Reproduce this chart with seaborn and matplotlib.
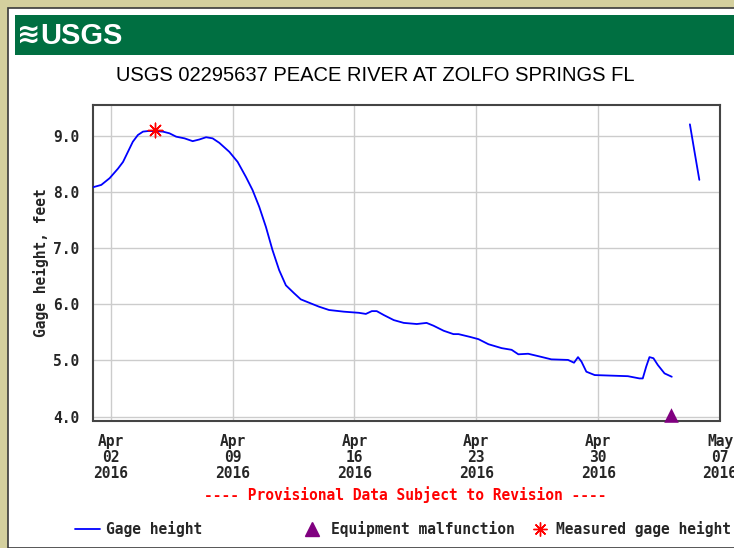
import matplotlib
matplotlib.use("Agg")
import matplotlib.pyplot as plt
import matplotlib.patches as mpatches
from matplotlib.lines import Line2D
import seaborn as sns
import pandas as pd

# ============================================================================
# DATA
# ============================================================================
TITLE = 'USGS 02295637 PEACE RIVER AT ZOLFO SPRINGS FL'

# main gage height record (first segment, before the gap)
GAGE_TIMES_1 = [
    '2016-04-01 00:00', '2016-04-01 11:00', '2016-04-01 22:30', '2016-04-02 10:00',
    '2016-04-02 17:00', '2016-04-02 23:45', '2016-04-03 06:30', '2016-04-03 13:30',
    '2016-04-03 20:30', '2016-04-04 03:15', '2016-04-04 12:30', '2016-04-05 00:00',
    '2016-04-05 09:00', '2016-04-05 18:15', '2016-04-06 05:45', '2016-04-06 17:00',
    '2016-04-07 02:15', '2016-04-07 11:30', '2016-04-07 20:30', '2016-04-08 05:45',
    '2016-04-08 19:30', '2016-04-09 07:00', '2016-04-09 18:30', '2016-04-10 03:30',
    '2016-04-10 12:45', '2016-04-10 22:00', '2016-04-11 07:00', '2016-04-11 16:15',
    '2016-04-12 01:30', '2016-04-12 12:45', '2016-04-12 22:00', '2016-04-13 09:30',
    '2016-04-13 23:00', '2016-04-14 13:00', '2016-04-15 09:30', '2016-04-16 06:00',
    '2016-04-16 15:45', '2016-04-17 00:00', '2016-04-17 06:45', '2016-04-17 16:30',
    '2016-04-18 06:15', '2016-04-18 20:00', '2016-04-19 14:00', '2016-04-20 03:30',
    '2016-04-20 13:00', '2016-04-21 03:00', '2016-04-21 16:30', '2016-04-21 23:30',
    '2016-04-22 15:30', '2016-04-23 03:00', '2016-04-23 16:45', '2016-04-24 11:00',
    '2016-04-25 00:45', '2016-04-25 10:00', '2016-04-25 23:30', '2016-04-26 15:45',
    '2016-04-27 07:30', '2016-04-28 06:30', '2016-04-28 14:45', '2016-04-28 20:15',
    '2016-04-29 01:00', '2016-04-29 07:45', '2016-04-29 19:15', '2016-05-01 17:00',
    '2016-05-02 09:00', '2016-05-02 13:30', '2016-05-02 18:15', '2016-05-02 22:45',
    '2016-05-03 04:15', '2016-05-03 10:15', '2016-05-03 19:30', '2016-05-04 05:30',
]
GAGE_VALUES_1 = [
    8.09, 8.13, 8.25, 8.42, 8.54, 8.72, 8.90, 9.02,
    9.08, 9.09, 9.09, 9.08, 9.05, 8.99, 8.96, 8.91,
    8.94, 8.98, 8.96, 8.88, 8.72, 8.54, 8.27, 8.04,
    7.74, 7.38, 6.97, 6.61, 6.34, 6.20, 6.09, 6.03,
    5.96, 5.90, 5.87, 5.85, 5.83, 5.88, 5.88, 5.81,
    5.72, 5.67, 5.65, 5.67, 5.62, 5.53, 5.47, 5.47,
    5.42, 5.38, 5.29, 5.22, 5.19, 5.11, 5.12, 5.07,
    5.02, 5.01, 4.96, 5.06, 4.98, 4.80, 4.74, 4.72,
    4.68, 4.68, 4.89, 5.06, 5.04, 4.92, 4.77, 4.71,
]

# short segment after the gap
GAGE_TIMES_2 = ['2016-05-05 06:30', '2016-05-05 12:30', '2016-05-05 19:30']
GAGE_VALUES_2 = [9.21, 8.75, 8.22]

MEASURED_TIMES = ['2016-04-04 12:30']
MEASURED_VALUES = [9.11]

MALFUNCTION_TIMES = ['2016-05-04 04:30']
MALFUNCTION_VALUES = [4.03]

X_TICKS = ['2016-04-02', '2016-04-09', '2016-04-16', '2016-04-23', '2016-04-30', '2016-05-07']
X_TICK_LABELS = ['Apr\n02\n2016', 'Apr\n09\n2016', 'Apr\n16\n2016',
                 'Apr\n23\n2016', 'Apr\n30\n2016', 'May\n07\n2016']
Y_TICKS = [4.0, 5.0, 6.0, 7.0, 8.0, 9.0]

# ============================================================================
# DATA PREPARATION
# ============================================================================
df = pd.DataFrame({
    'time': pd.to_datetime(GAGE_TIMES_1 + GAGE_TIMES_2),
    'value': GAGE_VALUES_1 + GAGE_VALUES_2,
    'segment': [1] * len(GAGE_TIMES_1) + [2] * len(GAGE_TIMES_2),
})
df_meas = pd.DataFrame({'time': pd.to_datetime(MEASURED_TIMES), 'value': MEASURED_VALUES})
df_mal = pd.DataFrame({'time': pd.to_datetime(MALFUNCTION_TIMES), 'value': MALFUNCTION_VALUES})

sns.set_style("white")
MONO = ['DejaVu Sans Mono']
SANS = ['Liberation Sans', 'DejaVu Sans']
plt.rcParams['font.family'] = MONO

KHAKI = '#d4d09e'
GREEN = '#006f41'
BLUE = '#0000ff'
PURPLE = '#800080'

fig = plt.figure(figsize=(7.34, 5.48), dpi=100, facecolor=KHAKI)

# page frame and banner (behind the axes)
fig.patches.append(mpatches.Rectangle((8 / 734, 0), 1, 1 - 8 / 548, transform=fig.transFigure,
                                      facecolor='white', edgecolor='#3a3a3a', linewidth=1.2, zorder=-3))
fig.patches.append(mpatches.Rectangle((15 / 734, 1 - 55 / 548), 1, 40 / 548, transform=fig.transFigure,
                                      facecolor=GREEN, edgecolor='none', zorder=-2))
fig.text(17 / 734, 1 - 35 / 548, '≋', color='white', fontsize=20, fontweight='bold',
         family=['DejaVu Sans'], va='center', ha='left')
fig.text(40 / 734, 1 - 36 / 548, 'USGS', color='white', fontsize=21, fontweight='bold',
         family=SANS, va='center', ha='left')
fig.text(375 / 734, 1 - 76 / 548, TITLE, fontsize=14.5, family=SANS,
         va='center', ha='center', color='black')

ax = fig.add_axes([93.3 / 734, 127.5 / 548, 626.7 / 734, 315.8 / 548])
ax.set_zorder(2)

sns.lineplot(data=df, x='time', y='value', units='segment', estimator=None,
             color=BLUE, linewidth=1.3, ax=ax, zorder=3)
sns.scatterplot(data=df_meas, x='time', y='value', marker=(8, 2, 0), color='red',
                s=110, linewidth=1.0, ax=ax, zorder=4)
sns.scatterplot(data=df_mal, x='time', y='value', marker='^', color=PURPLE,
                s=110, linewidth=0, ax=ax, zorder=4, clip_on=False)

ax.set_xlim(pd.Timestamp('2016-04-01'), pd.Timestamp('2016-05-07'))
ax.set_ylim(3.93, 9.56)
ax.set_xticks(pd.to_datetime(X_TICKS))
ax.set_xticklabels(X_TICK_LABELS, fontsize=10.5, fontweight='bold')
ax.set_yticks(Y_TICKS)
ax.set_yticklabels([f'{v:.1f}' for v in Y_TICKS], fontsize=10.5, fontweight='bold')
for lbl in ax.get_xticklabels():
    lbl.set_linespacing(1.05)
ax.tick_params(axis='both', length=0)
ax.tick_params(axis='x', pad=10)
ax.tick_params(axis='y', pad=10)
ax.grid(True, color='#cccccc', linewidth=1.0)
for sp in ax.spines.values():
    sp.set_color('#444444')
    sp.set_linewidth(1.5)
ax.set_xlabel('')
ax.set_ylabel('Gage height, feet', fontsize=10.5, fontweight='bold', labelpad=3)

fig.text(405 / 734, 1 - 495 / 548, '---- Provisional Data Subject to Revision ----',
         color='red', fontsize=10.5, fontweight='bold', ha='center', va='center')

# legend, three separate entries
legend_items = [
    (Line2D([], [], color=BLUE, linewidth=1.3), 'Gage height', 75, 1.7, 0.4),
    (Line2D([], [], color=PURPLE, marker='^', linestyle='none', markersize=10),
     'Equipment malfunction', 305, 1.0, 0.75),
    (Line2D([], [], color='red', marker=(8, 2, 0), linestyle='none', markersize=10, markeredgewidth=1.0),
     'Measured gage height', 533, 1.0, 0.6),
]
for handle, label, xpix, hl, htp in legend_items:
    fig.legend([handle], [label], loc='center left', bbox_to_anchor=(xpix / 734, 1 - 529 / 548),
               frameon=False, borderpad=0, borderaxespad=0, handlelength=hl, handletextpad=htp,
               prop={'family': MONO, 'weight': 'bold', 'size': 10.5})

fig.savefig('out.png', dpi=100, facecolor=KHAKI)
